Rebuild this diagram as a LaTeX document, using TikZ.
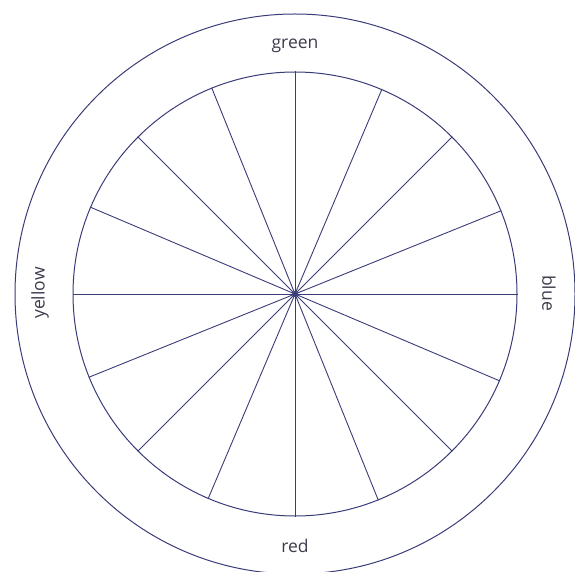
\documentclass[tikz,border=0pt]{standalone}
\usepackage{fontspec}
\setmainfont{Open Sans}
\definecolor{wheel}{HTML}{3A3C78}
\definecolor{lbl}{HTML}{3C3C4C}
\tikzset{
  ring/.style={circle, draw=wheel, line width=1pt, inner sep=0pt},
  spoke/.style={draw=wheel, line width=0.9pt},
  lab/.style={text=lbl, font=\fontsize{17.5}{20}\selectfont, inner sep=0pt}
}
\begin{document}
\begin{tikzpicture}[x=1pt,y=1pt]
\useasboundingbox (0,0) rectangle (575,571);
\coordinate (c) at (295,277);
\node[ring, minimum size=560pt] (outer) at (c) {};
\node[ring, minimum size=444pt] (inner) at (c) {};
\foreach \a in {0,22.5,...,337.5}{
  \draw[spoke] (c) -- (inner.\a);
}
\fill[wheel] (c) circle (3pt);
\node[lab] (green) at (295,525) {green};
\node[lab] (red) at (295,25) {red};
\node[lab, rotate=90] (yellow) at (40,278) {yellow};
\node[lab, rotate=-90] (blue) at (549,278) {blue};
\end{tikzpicture}
\end{document}
